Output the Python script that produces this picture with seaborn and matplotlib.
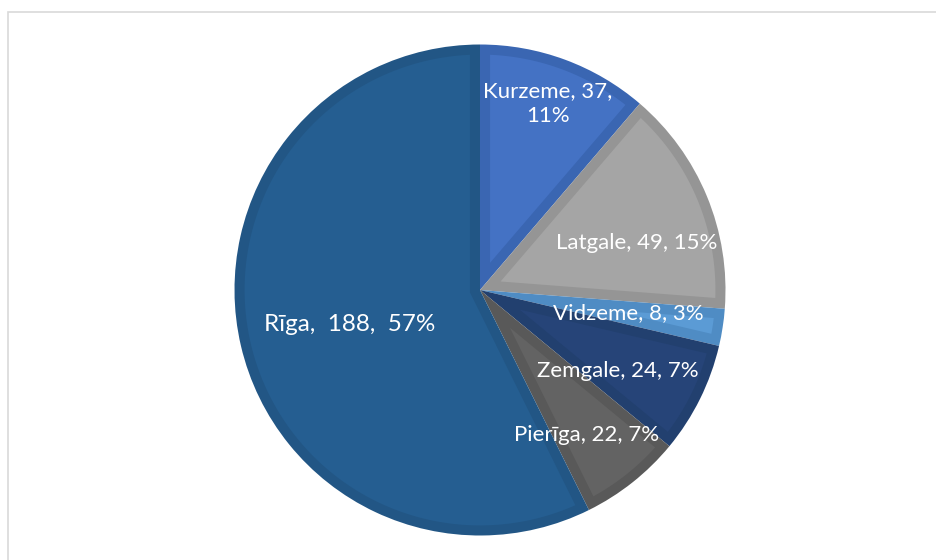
import matplotlib
matplotlib.use('Agg')
import matplotlib.pyplot as plt
from matplotlib.patches import Rectangle, Polygon
import numpy as np
import seaborn as sns

sns.set_style('white')
plt.rcParams['font.family'] = ['Lato', 'DejaVu Sans']

# data
regions = ['Kurzeme', 'Latgale', 'Vidzeme', 'Zemgale', 'Pierīga', 'Rīga']
counts = [37, 49, 8, 24, 22, 188]
shares = ['11%', '15%', '3%', '7%', '7%', '57%']

# styles
fills = ['#4472C4', '#A5A5A5', '#5B9BD5', '#264478', '#636363', '#255E91']
edges = ['#3A66B2', '#959595', '#4F8CC4', '#22406F', '#595959', '#225685']
label_r = [0.81, 0.665, 0.61, 0.65, 0.733, 0.55]
label_ang = [70, 16.8, -8.8, -30.3, -53.8, 195]
border = 0.041  # inner border width, in pie radii


def inset_slice(t1, t2, b, n=120):
    # polygon of a wedge shrunk by b on all sides (mitred at the centre)
    r = 1 - b
    da = np.rad2deg(np.arcsin(b / r))
    arc = np.deg2rad(np.linspace(t1 + da, t2 - da, n))
    half = np.deg2rad((t2 - t1) / 2)
    mid = np.deg2rad((t1 + t2) / 2)
    d = b / np.sin(half)
    pts = [(d * np.cos(mid), d * np.sin(mid))]
    pts += list(zip(r * np.cos(arc), r * np.sin(arc)))
    return np.array(pts)


W, H = 937, 560
fig = plt.figure(figsize=(W / 100, H / 100), dpi=100)

# light chart frame
fig.add_artist(Rectangle((8.5 / W, -0.1), 1.2, 1 - 11.5 / H + 0.1,
                         transform=fig.transFigure, fill=False,
                         edgecolor='#D9D9D9', linewidth=1.2))

cx, cy, R = 480, 290, 245.5
ax = fig.add_axes([(cx - R) / W, (H - cy - R) / H, 2 * R / W, 2 * R / H])
wedges, _ = ax.pie(counts, colors=edges, startangle=90, counterclock=False,
                   radius=1, wedgeprops=dict(linewidth=0))
for w, fc in zip(wedges, fills):
    ax.add_patch(Polygon(inset_slice(w.theta1, w.theta2, border),
                         closed=True, facecolor=fc, edgecolor='none'))

for i, name in enumerate(regions):
    a = np.deg2rad(label_ang[i])
    x, y = label_r[i] * np.cos(a), label_r[i] * np.sin(a)
    if name == 'Kurzeme':
        txt = f'{name}, {counts[i]},\n{shares[i]}'
    elif name == 'Rīga':
        txt = f'{name},  {counts[i]},  {shares[i]}'
    else:
        txt = f'{name}, {counts[i]}, {shares[i]}'
    ax.text(x, y, txt, ha='center', va='center', color='white',
            fontsize=17.5 if name == 'Rīga' else 16, linespacing=1.3)

ax.set_xlim(-1, 1)
ax.set_ylim(-1, 1)
ax.set_aspect('auto')
ax.axis('off')

fig.savefig('out.png', dpi=100)
